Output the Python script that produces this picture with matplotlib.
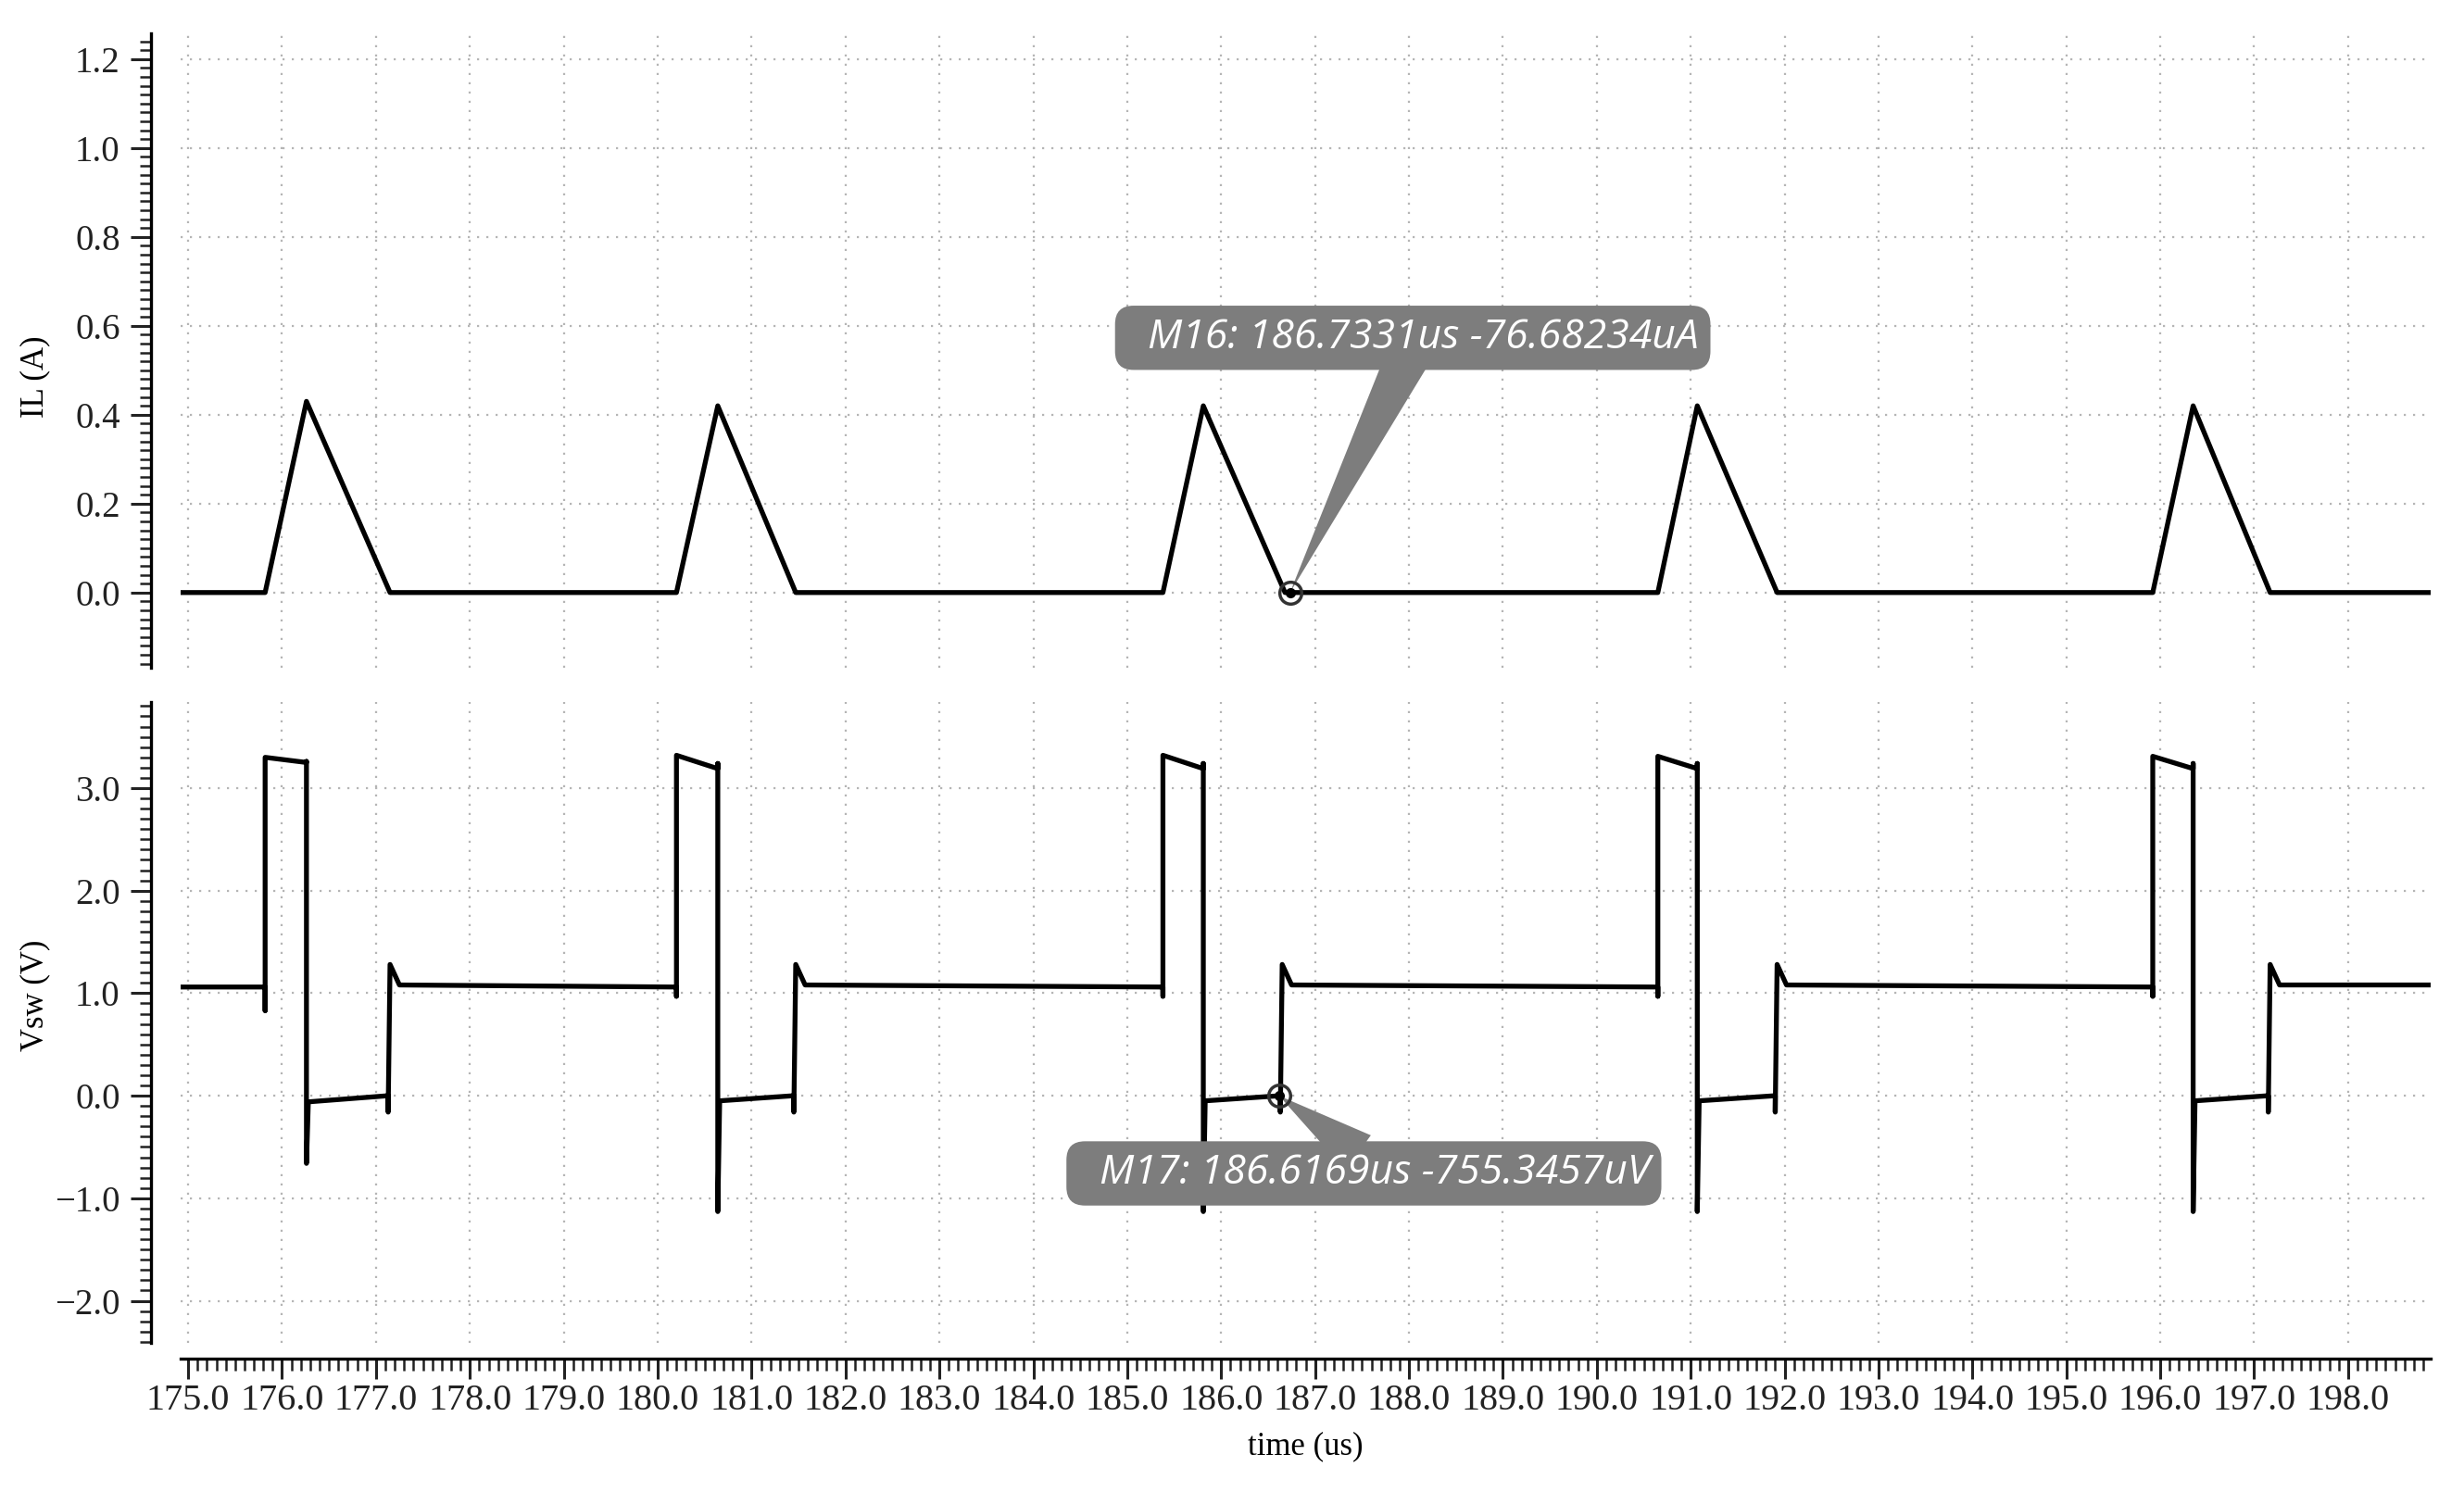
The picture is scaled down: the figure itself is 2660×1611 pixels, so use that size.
import matplotlib
matplotlib.use('Agg')
import matplotlib.pyplot as plt
from matplotlib.ticker import MultipleLocator, FuncFormatter

# time window of the transient (us)
t_start = 174.92
t_end = 198.88

# switching events of each cycle (us)
t_on = [175.82, 180.20, 185.38, 190.65, 195.92]
t_off = [176.26, 180.64, 185.81, 191.07, 196.35]
t_low_end = [177.13, 181.45, 186.63, 191.90, 197.15]
t_il_zero = [177.15, 181.47, 186.68, 191.92, 197.17]

# inductor current peaks (A)
il_peak = [0.43, 0.42, 0.42, 0.42, 0.42]

# switch node levels (V)
vsw_idle_before = [1.06, 1.06, 1.06, 1.06, 1.06]
vsw_on_dip = [0.83, 0.97, 0.97, 0.97, 0.97]
vsw_high_start = [3.30, 3.32, 3.32, 3.31, 3.31]
vsw_high_end = [3.25, 3.19, 3.19, 3.19, 3.19]
vsw_high_spike = [3.26, 3.24, 3.24, 3.24, 3.24]
vsw_neg_spike = [-0.66, -1.13, -1.13, -1.13, -1.13]
vsw_low_start = [-0.06, -0.05, -0.05, -0.05, -0.05]
vsw_low_end = [0.00, 0.00, 0.00, 0.00, 0.00]
vsw_off_dip = [-0.16, -0.16, -0.16, -0.16, -0.16]
vsw_ring_peak = [1.28, 1.28, 1.28, 1.28, 1.28]
vsw_idle_after = [1.08, 1.08, 1.08, 1.08, 1.08]

# short durations of the edges (us)
dead_time = 0.02
ring_rise = 0.02
ring_settle = 0.12

# markers
m16_t, m16_v = 186.7331, -76.68234e-6
m17_t, m17_v = 186.6169, -755.3457e-6
m16_text = "M16: 186.7331us -76.68234uA"
m17_text = "M17: 186.6169us -755.3457uV"

# build piecewise waveforms from the events
il_t, il_v = [t_start], [0.0]
vs_t, vs_v = [t_start], [vsw_idle_before[0]]
for i in range(len(t_on)):
    il_t += [t_on[i], t_off[i], t_il_zero[i]]
    il_v += [0.0, il_peak[i], 0.0]
    vs_t += [t_on[i], t_on[i], t_on[i],
             t_off[i], t_off[i], t_off[i], t_off[i] + dead_time,
             t_low_end[i], t_low_end[i], t_low_end[i] + ring_rise,
             t_low_end[i] + ring_settle]
    vs_v += [vsw_idle_before[i], vsw_on_dip[i], vsw_high_start[i],
             vsw_high_end[i], vsw_high_spike[i], vsw_neg_spike[i], vsw_low_start[i],
             vsw_low_end[i], vsw_off_dip[i], vsw_ring_peak[i],
             vsw_idle_after[i]]
    if i + 1 < len(t_on):
        vs_t.append(t_on[i + 1] - 0.01)
        vs_v.append(vsw_idle_before[i + 1])
il_t.append(t_end)
il_v.append(0.0)
vs_t.append(t_end)
vs_v.append(vsw_idle_after[-1])

plt.rcParams['font.family'] = ['Liberation Serif', 'DejaVu Serif']
plt.rcParams['axes.unicode_minus'] = True

grid_color = '#b5b5b5'
grid_ls = (0, (1, 3.5))
box_color = '#7d7d7d'

fig = plt.figure(figsize=(26.6, 16.11), dpi=100)
ax1 = fig.add_axes([0.0733, 0.5525, 0.9132, 0.4252])
ax2 = fig.add_axes([0.0733, 0.1, 0.9132, 0.4295], sharex=ax1)

ax1.plot(il_t, il_v, color='black', lw=3.8, zorder=3)
ax2.plot(vs_t, vs_v, color='black', lw=3.8, zorder=3)

fmt = FuncFormatter(lambda v, p: ('%.1f' % v).replace('-', '\u2212'))

for ax in (ax1, ax2):
    for s in ('top', 'right'):
        ax.spines[s].set_visible(False)
    ax.spines['left'].set_position(('outward', 23))
    ax.spines['left'].set_linewidth(2.4)
    ax.spines['bottom'].set_position(('outward', 12))
    ax.spines['bottom'].set_linewidth(2.4)
    ax.tick_params(which='major', length=16, width=2.2, labelsize=28, pad=8,
                   colors='#222222')
    ax.tick_params(which='minor', length=9, width=1.8, colors='#222222')
    ax.grid(True, which='major', color=grid_color, ls=grid_ls, lw=1.6)
    ax.yaxis.set_major_formatter(fmt)

ax1.spines['bottom'].set_visible(False)
ax1.tick_params(axis='x', which='both', bottom=False, labelbottom=False)

ax1.set_xlim(t_start, t_end)
ax2.xaxis.set_major_locator(MultipleLocator(1.0))
ax2.xaxis.set_minor_locator(MultipleLocator(0.1))
ax2.xaxis.set_major_formatter(fmt)
ax2.tick_params(axis='x', which='major', pad=4, labelsize=29)

ax1.set_ylim(-0.169, 1.258)
ax1.yaxis.set_major_locator(MultipleLocator(0.2))
ax1.yaxis.set_minor_locator(MultipleLocator(0.02))

ax2.set_ylim(-2.41, 3.84)
ax2.yaxis.set_major_locator(MultipleLocator(1.0))
ax2.yaxis.set_minor_locator(MultipleLocator(0.1))

ax1.set_ylabel('IL (A)', fontsize=25)
ax1.yaxis.set_label_coords(-0.058, 0.458)
ax2.set_ylabel('Vsw (V)', fontsize=25)
ax2.yaxis.set_label_coords(-0.058, 0.542)
ax2.set_xlabel('time (us)', fontsize=25, labelpad=10)

# marker symbols
for ax, mt, mv in ((ax1, m16_t, m16_v), (ax2, m17_t, m17_v)):
    ax.plot(mt, mv, 'o', ms=17, mfc='none', mec='#333333', mew=2.5, zorder=6)
    ax.plot(mt, mv, 'o', ms=7, color='black', zorder=7)

ann_font = dict(family=['Open Sans', 'DejaVu Sans'], style='italic',
                size=32, color='white')
ax1.annotate('  ' + m16_text, xy=(m16_t, m16_v), xytext=(188.04, 0.573),
             ha='center', va='center', zorder=5, **ann_font,
             bbox=dict(boxstyle='round,pad=0.28,rounding_size=0.45',
                       fc=box_color, ec='none'),
             arrowprops=dict(arrowstyle='wedge,tail_width=1.05,shrink_factor=0.5',
                             fc=box_color, ec='none', relpos=(0.49, 0.0),
                             shrinkA=0, shrinkB=0, patchA=None))
ax2.annotate('  ' + m17_text, xy=(m17_t, m17_v), xytext=(187.52, -0.758),
             ha='center', va='center', zorder=5, **ann_font,
             bbox=dict(boxstyle='round,pad=0.28,rounding_size=0.45',
                       fc=box_color, ec='none'),
             arrowprops=dict(arrowstyle='wedge,tail_width=1.05,shrink_factor=0.5',
                             fc=box_color, ec='none', relpos=(0.49, 1.0),
                             shrinkA=0, shrinkB=0, patchA=None))

fig.savefig('out.png', dpi=100)
